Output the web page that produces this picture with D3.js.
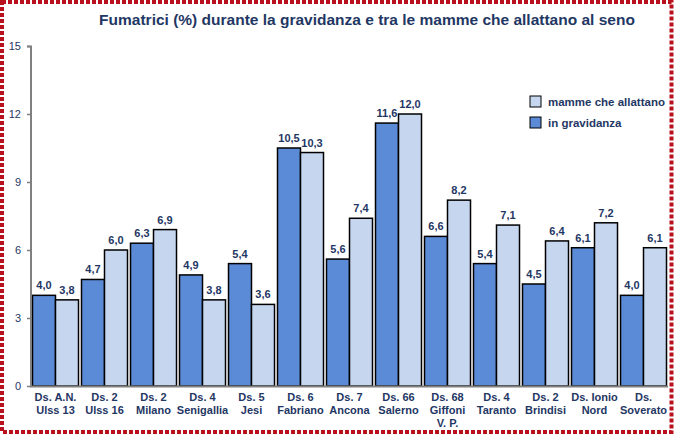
<!DOCTYPE html>
<html><head><meta charset="utf-8">
<script src="https://cdn.jsdelivr.net/npm/d3@7"></script>
<style>body{margin:0;background:#fff}svg{display:block}text{font-family:Arial,"Liberation Sans",sans-serif}</style>
</head><body><svg id="c" width="675" height="434"></svg>
<script>
const categories = [["Ds. A.N.","Ulss 13"],["Ds. 2","Ulss 16"],["Ds. 2","Milano"],["Ds. 4","Senigallia"],["Ds. 5","Jesi"],["Ds. 6","Fabriano"],["Ds. 7","Ancona"],["Ds. 66","Salerno"],["Ds. 68","Giffoni","V. P."],["Ds. 4","Taranto"],["Ds. 2","Brindisi"],["Ds. Ionio","Nord"],["Ds.","Soverato"]];
const gravidanza = [4.0,4.7,6.3,4.9,5.4,10.5,5.6,11.6,6.6,5.4,4.5,6.1,4.0];
const allattano = [3.8,6.0,6.9,3.8,3.6,10.3,7.4,12.0,8.2,7.1,6.4,7.2,6.1];
const yTicks = [0,3,6,9,12,15];
const seriesNames = ["in gravidanza","mamme che allattano"];
const colors = {"in gravidanza":"#5b8ad6","mamme che allattano":"#c6d6ef"};
const navy = "#1f3764";

const svg = d3.select("#c");
// border
svg.append("rect").attr("x",2).attr("y",2).attr("width",669.5).attr("height",430)
  .attr("fill","none").attr("stroke","#b8101c").attr("stroke-width",4).attr("stroke-dasharray","4,2");

svg.append("text").attr("x",367).attr("y",25).attr("text-anchor","middle")
  .attr("font-size",15.5).attr("font-weight","bold").attr("fill",navy)
  .text("Fumatrici (%) durante la gravidanza e tra le mamme che allattano al seno");

const x = d3.scaleBand().domain(d3.range(categories.length)).range([31,668]);
const y = d3.scaleLinear().domain([0,15]).range([386,46]);
const bw = 23;

const g = svg.append("g");
categories.forEach((c,i)=>{
  const x0 = x(i)+1.5;
  [[gravidanza[i],seriesNames[0]],[allattano[i],seriesNames[1]]].forEach(([v,s],j)=>{
    const bx = x0 + j*bw;
    g.append("rect").attr("x",bx).attr("y",y(v)).attr("width",bw).attr("height",y(0)-y(v))
      .attr("fill",colors[s]).attr("stroke","#000").attr("stroke-width",1.5);
    g.append("text").attr("x",bx+bw/2).attr("y",y(v)-6).attr("text-anchor","middle")
      .attr("font-size",11).attr("font-weight","bold").attr("fill",navy)
      .text(v.toFixed(1).replace(".",","));
  });
});

// y axis
const ya = svg.append("g").attr("transform","translate(31,0)")
  .call(d3.axisLeft(y).tickValues(yTicks).tickSize(4).tickPadding(6));
ya.select(".domain").attr("stroke","#808080").attr("stroke-width",2).attr("d","M-4,46.5H0V386.5");
ya.selectAll(".tick line").attr("stroke","#808080").attr("stroke-width",1.5);
ya.selectAll(".tick text").attr("font-size",11).attr("fill",navy).attr("font-family","Arial");

// x axis line
svg.append("line").attr("x1",30).attr("x2",668).attr("y1",y(0)+0.5).attr("y2",y(0)+0.5)
  .attr("stroke","#808080").attr("stroke-width",2);

// category labels
categories.forEach((c,i)=>{
  const t = svg.append("text").attr("x",x(i)+x.bandwidth()/2).attr("y",401)
    .attr("text-anchor","middle").attr("font-size",11).attr("font-weight","bold").attr("fill",navy);
  c.forEach((l,k)=>t.append("tspan").attr("x",x(i)+x.bandwidth()/2).attr("dy",k?13:0).text(l));
});

// legend
const leg = [[seriesNames[1],96],[seriesNames[0],117]];
leg.forEach(([s,ly])=>{
  svg.append("rect").attr("x",530).attr("y",ly).attr("width",11).attr("height",11)
    .attr("fill",colors[s]).attr("stroke","#000").attr("stroke-width",1);
  svg.append("text").attr("x",548).attr("y",ly+10).attr("font-size",11.5).attr("font-weight","bold")
    .attr("fill",navy).text(s);
});
</script></body></html>
